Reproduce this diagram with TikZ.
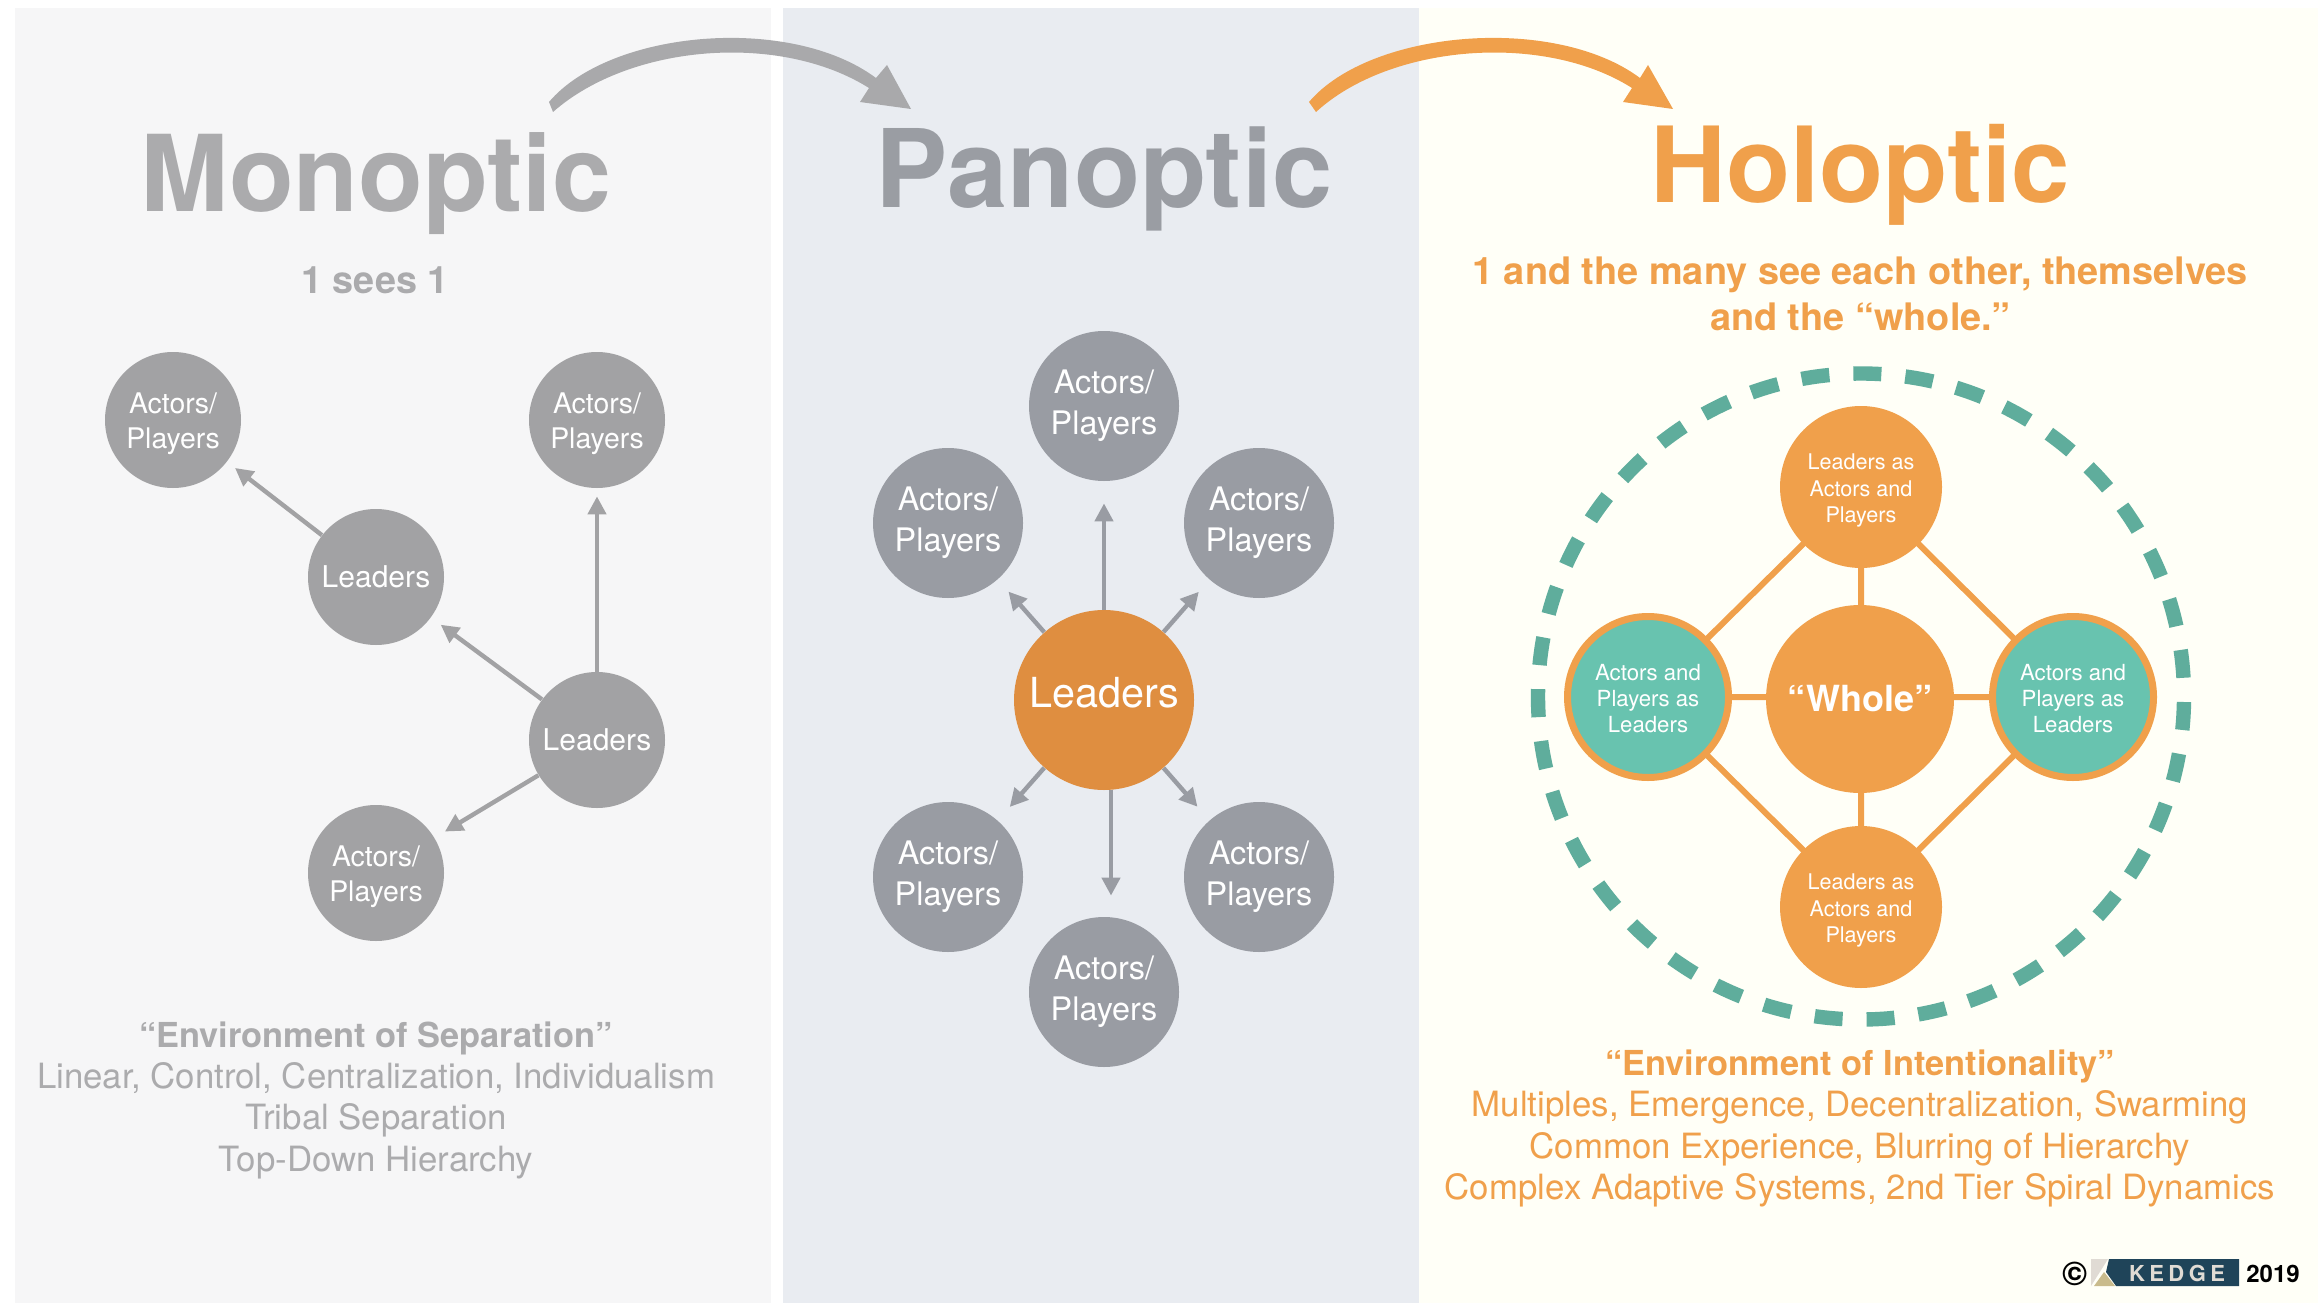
\documentclass[tikz,border=0pt]{standalone}
\usepackage{fontspec}
\setmainfont{TeX Gyre Heros}
\usetikzlibrary{arrows.meta,calc}
\definecolor{panA}{HTML}{F6F6F7}
\definecolor{panB}{HTML}{E9ECF1}
\definecolor{panC}{HTML}{FFFFF7}
\definecolor{txtA}{HTML}{ABABAD}
\definecolor{txtB}{HTML}{9A9DA3}
\definecolor{grayC}{HTML}{A2A2A4}
\definecolor{grayD}{HTML}{999CA3}
\definecolor{arrA}{HTML}{A9A9AB}
\definecolor{org}{HTML}{F0A04B}
\definecolor{orgD}{HTML}{DF8E40}
\definecolor{tealF}{HTML}{68C3AF}
\definecolor{tealD}{HTML}{5FAD9C}
\definecolor{navy}{HTML}{1F4459}
\definecolor{pale}{HTML}{E0DBD4}
\definecolor{tan}{HTML}{C9BB8C}
\newcommand{\fsz}[2]{\fontsize{#1}{#2}\selectfont}
\newcommand{\dn}[1]{\rule{0pt}{#1}}
\newcommand{\up}[1]{\rule[-#1]{0pt}{1pt}}
\tikzset{
 circ/.style={circle,inner sep=0pt,align=center,text=white},
 monoc/.style={circ,fill=grayC,minimum size=68pt,font=\fsz{14.2}{17.5}},
 panoc/.style={circ,fill=grayD,minimum size=75pt,font=\fsz{16.2}{20.5}},
 holoc/.style={circ,fill=org,minimum size=81pt,font=\fsz{10.8}{13.2}},
 holot/.style={circ,fill=tealF,draw=org,line width=3.5pt,minimum size=80.5pt,font=\fsz{11.1}{13.1}},
 titl/.style={anchor=base,inner sep=0pt,font=\bfseries\fsz{52.5}{60}},
 para/.style={anchor=base,inner sep=0pt,align=center,font=\fsz{17.4}{20.8}},
 arrm/.style={draw=grayC,line width=2.2pt,-{Triangle[length=9pt,width=9pt]}},
 arrp/.style={draw=grayD,line width=2.2pt,-{Triangle[length=9pt,width=9pt]}},
 lnk/.style={draw=org,line width=3pt},
}
\begin{document}
\begin{tikzpicture}[x=0.5pt,y=-0.5pt]
\useasboundingbox (0,0) rectangle (2322,1316);
\fill[white] (0,0) rectangle (2322,1316);
\fill[panA] (15,8) rectangle (771,1303);
\fill[panB] (783,8) rectangle (1419,1303);
\fill[panC] (1419,8) rectangle (2318,1303);
% curved arrows
\fill[arrA] (549,102) .. controls (610,30) and (790,14) .. (876,78) -- (887,65) -- (911,109) -- (860,102) -- (869,88) .. controls (780,32) and (630,44) .. (553,112) -- cycle;
\fill[org] (1309,102) .. controls (1370,30) and (1554,14) .. (1640,78) -- (1648,65) -- (1673,109) -- (1623,102) -- (1632,88) .. controls (1544,32) and (1390,44) .. (1316,112) -- cycle;
% titles
\node[titl,text=txtA,font=\bfseries\fsz{53}{60}] (tm) at (376,212) {Monoptic};
\node[titl,text=txtB,font=\bfseries\fsz{54.2}{60}] (tp) at (1104,208) {Panoptic};
\node[titl,text=org] (th) at (1860,203) {Holoptic};
\node[para,text=txtA,font=\bfseries\fsz{18.9}{22}] (sm) at (375,293) {1 sees 1};
\node[para,text=org,font=\bfseries\fsz{18.95}{23}] (sh1) at (1860,284.5) {1 and the many see each other, themselves};
\node[para,text=org,font=\bfseries\fsz{18.95}{23}] (sh2) at (1860,330.5) {and the “whole.”};
% monoptic
\node[monoc] (ma1) at (173,420) {\dn{14.5pt}Actors/\\Players};
\node[monoc] (ma2) at (597,420) {\dn{14.5pt}Actors/\\Players};
\node[monoc,font=\fsz{15}{18}] (ml1) at (376,577) {Leaders};
\node[monoc,font=\fsz{15}{18}] (ml2) at (597,740) {Leaders};
\node[monoc] (ma3) at (376,873) {\dn{14.5pt}Actors/\\Players};
\draw[arrm,shorten >=5pt] (ml1) -- (ma1);
\draw[arrm,shorten >=4pt] (ml2) -- (ma2);
\draw[arrm,shorten >=6pt] (ml2) -- (ml1);
\draw[arrm,shorten >=6pt] (ml2) -- (ma3);
% panoptic
\node[circ,fill=orgD,minimum size=90pt,font=\fsz{20.7}{24}] (pl) at (1104,700) {Leaders\up{8pt}};
\node[panoc] (p1) at (1104,406) {Actors/\\Players};
\node[panoc] (p2) at (948,523) {Actors/\\Players};
\node[panoc] (p3) at (1259,523) {Actors/\\Players};
\node[panoc] (p4) at (948,877) {Actors/\\Players};
\node[panoc] (p5) at (1259,877) {Actors/\\Players};
\node[panoc] (p6) at (1104,992) {Actors/\\Players};
\draw[arrp,shorten >=11pt] (pl) -- (p1);
\draw[arrp,shorten >=8pt] (pl) -- (p2);
\draw[arrp,shorten >=8pt] (pl) -- (p3);
\draw[arrp,shorten >=9pt] (pl) -- (p4);
\draw[arrp,shorten >=9pt] (pl) -- (p5);
\draw[arrp,shorten >=10.5pt] ([xshift=3.5pt]pl.south) -- ([xshift=3.5pt]p6.north);
% holoptic
\draw[tealD,line width=7.2pt,dash pattern=on 14pt off 12.02pt,dash phase=23.27pt] (1861,696.5) circle[radius=323];
\coordinate (hc) at (1860,699);
\coordinate (ht) at (1861,487);
\coordinate (hb) at (1861,907);
\coordinate (hl) at (1648,697);
\coordinate (hr) at (2073,697);
\draw[lnk] (ht) -- (hb) (hl) -- (hr) (ht) -- (hl) -- (hb) -- (hr) -- (ht);
\node[circ,fill=org,minimum size=94pt,font=\bfseries\fsz{18}{22}] (hwhole) at (hc) {“Whole”};
\node[holoc] (h1) at (ht) {\dn{11.5pt}Leaders as\\Actors and\\Players};
\node[holoc] (h2) at (hb) {\dn{11.5pt}Leaders as\\Actors and\\Players};
\node[holot] (h3) at (hl) {\dn{9.5pt}Actors and\\Players as\\Leaders};
\node[holot] (h4) at (hr) {\dn{9.5pt}Actors and\\Players as\\Leaders};
% bottom paragraphs
\node[para,text=txtA,font=\bfseries\fsz{17.2}{20.8}] (b0) at (376,1047) {“Environment of Separation”};
\node[para,text=txtA] (b1) at (376,1088.5) {Linear, Control, Centralization, Individualism};
\node[para,text=txtA] (b2) at (376,1129.5) {Tribal Separation};
\node[para,text=txtA] (b3) at (376,1171.5) {Top-Down Hierarchy};
\node[para,text=org,font=\bfseries\fsz{17.2}{20.8}] (c0) at (1860,1075.5) {“Environment of Intentionality”};
\node[para,text=org] (c1) at (1860,1116.5) {Multiples, Emergence, Decentralization, Swarming};
\node[para,text=org] (c2) at (1860,1158.5) {Common Experience, Blurring of Hierarchy};
\node[para,text=org] (c3) at (1860,1199.5) {Complex Adaptive Systems, 2nd Tier Spiral Dynamics};
% logo
\node[inner sep=0pt,text=black,font=\bfseries\fsz{17}{19}] (cp) at (2075,1274) {©};
\fill[pale] (2091,1259) -- (2108,1259) -- (2091,1286) -- cycle;
\fill[tan] (2094,1286) -- (2104,1272) -- (2115,1286) -- cycle;
\fill[navy] (2109,1259) -- (2239,1259) -- (2239,1286) -- (2116,1286) -- (2106,1272) -- cycle;
\node[inner sep=0pt,text=pale,font=\bfseries\fsz{11}{13}] (kd) at (2177,1273) {K\kern2.2pt E\kern2.2pt D\kern2.2pt G\kern2.2pt E};
\node[anchor=base,inner sep=0pt,text=black,font=\bfseries\fsz{12}{13}] (yr) at (2273,1282) {2019};
\end{tikzpicture}
\end{document}
